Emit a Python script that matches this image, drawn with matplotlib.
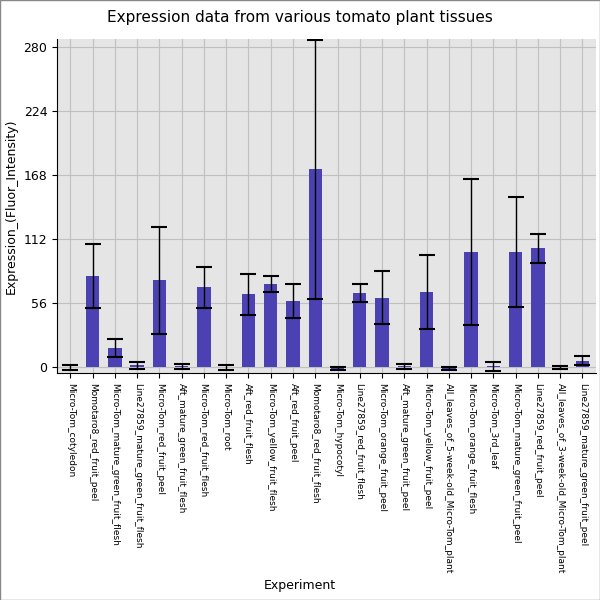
import matplotlib
matplotlib.use("Agg")
import matplotlib.pyplot as plt
import numpy as np

# === DATA ===
tissues = [
    "Micro-Tom_cotyledon", "Momotaro8_red_fruit_peel", "Micro-Tom_mature_green_fruit_flesh",
    "Line27859_mature_green_fruit_flesh", "Micro-Tom_red_fruit_peel", "Aft_mature_green_fruit_flesh",
    "Micro-Tom_red_fruit_flesh", "Micro-Tom_root", "Aft_red_fruit_flesh",
    "Micro-Tom_yellow_fruit_flesh", "Aft_red_fruit_peel", "Momotaro8_red_fruit_flesh",
    "Micro-Tom_hypocotyl", "Line27859_red_fruit_flesh", "Micro-Tom_orange_fruit_peel",
    "Aft_mature_green_fruit_peel", "Micro-Tom_yellow_fruit_peel", "All_leaves_of_5-week-old_Micro-Tom_plant",
    "Micro-Tom_orange_fruit_flesh", "Micro-Tom_3rd_leaf", "Micro-Tom_mature_green_fruit_peel",
    "Line27859_red_fruit_peel", "All_leaves_of_3-week-old_Micro-Tom_plant", "Line27859_mature_green_fruit_peel",
]
means = [0, 80, 17, 2, 76, 1, 70, 0, 64, 73, 58, 173, -1, 65, 61, 1, 66, -1, 101, 1, 101, 104, 0, 6]
errors = [2, 28, 8, 3, 47, 2, 18, 2, 18, 7, 15, 113, 1, 8, 23, 2, 32, 1, 64, 4, 48, 13, 1, 4]
yticks = [0, 56, 112, 168, 224, 280]

# === PLOT ===
fig = plt.figure(figsize=(6, 6), dpi=100)
ax = fig.add_axes([0.095, 0.378, 0.898, 0.557])
ax.set_facecolor("#e5e5e5")
x = np.arange(len(tissues))
ax.bar(x, means, width=0.6, color="#4c41b3", zorder=2)
ax.errorbar(x, means, yerr=errors, fmt="none", ecolor="black", elinewidth=1,
            capsize=6, capthick=1.5, zorder=3)
ax.set_xticks(x)
ax.set_xticklabels(tissues, rotation=-90, fontsize=6.5)
ax.set_yticks(yticks)
ax.tick_params(axis="y", labelsize=9)
ax.set_xlim(-0.6, len(tissues) - 0.4)
ax.set_ylim(-5, 287)
ax.grid(True, color="#c0c0c0", linewidth=0.8, zorder=0)
ax.set_axisbelow(True)
for s in ["top", "right"]:
    ax.spines[s].set_visible(False)
ax.set_ylabel("Expression_(Fluor_Intensity)", fontsize=9)
fig.text(0.5, 0.018, "Experiment", ha="center", fontsize=9)
fig.text(0.5, 0.963, "Expression data from various tomato plant tissues", ha="center", fontsize=11)
fig.patches.append(plt.Rectangle((0, 0), 1, 1, transform=fig.transFigure,
                                 fill=False, edgecolor="#888888", linewidth=1))
plt.savefig("out.png")
